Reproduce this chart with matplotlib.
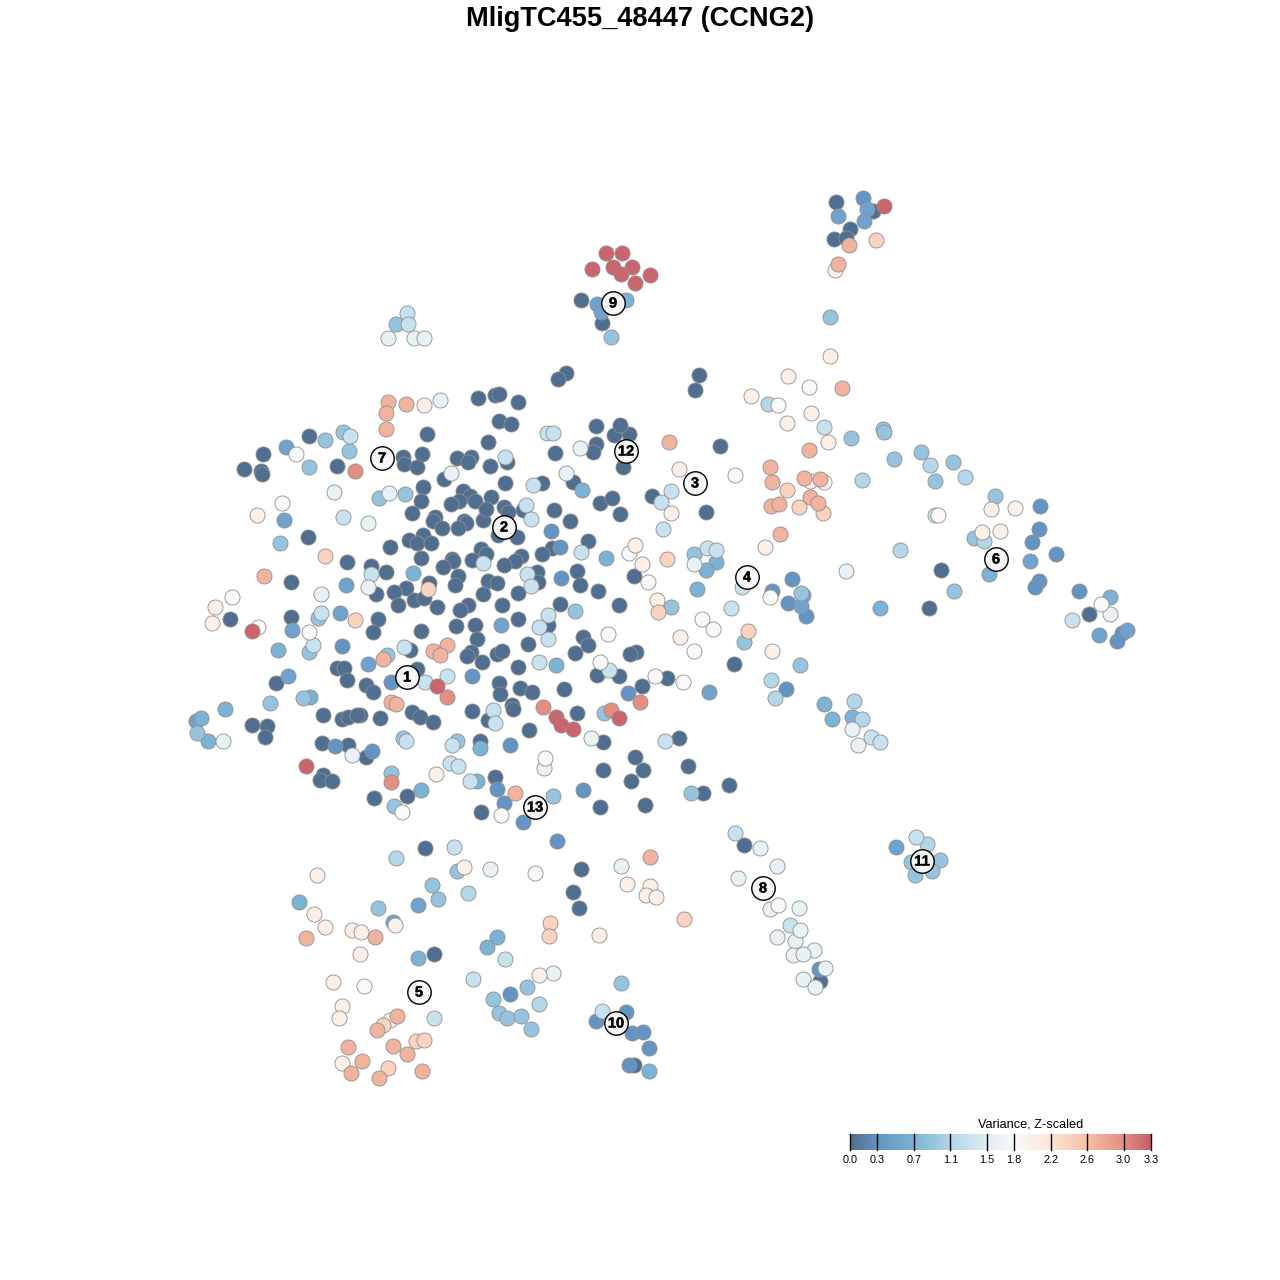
import matplotlib
matplotlib.use("Agg")
import matplotlib.pyplot as plt
import matplotlib.colors as mcolors
import matplotlib.patheffects as pe
import numpy as np

plt.rcParams['font.family'] = ['Liberation Sans', 'DejaVu Sans']

title = "MligTC455_48447 (CCNG2)"
legend_title = "Variance, Z-scaled"

# embedding positions, grouped by variance level
v_00 = [(427,434),(488,442),(403,457),(404,464),(422,454),(417,467),(457,458),(471,457),(468,462),(490,466),
        (507,462),(555,453),(596,444),(593,452),(614,435),(629,434),(623,467),(444,479),(423,487),(505,483),
        (542,483),(573,482),(463,491),(470,496),(459,501),(451,504),(475,501),(491,497),(421,501),(412,513),
        (435,517),(433,521),(442,528),(464,521),(466,523),(458,528),(483,520),(486,509),(504,507),(508,512),
        (523,510),(554,510),(570,521),(600,503),(612,498),(620,514),(652,496),(498,535),(517,537),(409,540),
        (423,535),(417,543),(431,543),(390,547),(588,541),(552,548),(542,554),(521,556),(515,561),(504,565),
        (481,549),(486,554),(472,560),(452,559),(453,561),(443,567),(421,558),(371,566),(386,572),(458,576),
        (455,585),(429,583),(406,588),(394,592),(376,594),(398,605),(414,600),(424,598),(437,607),(488,581),
        (497,583),(483,594),(518,593),(537,572),(538,582),(577,571),(580,585),(598,591),(619,605),(634,576),
        (560,604),(502,605),(468,605),(460,610),(378,619),(373,632),(421,631),(456,626),(475,625),(518,619),
        (477,639),(548,625),(583,637),(588,645),(575,653),(528,644),(471,652),(467,656),(497,654),(502,651),
        (482,662),(518,667),(636,652),(630,654),(410,650),(417,669),(597,675),(619,676),(642,686),(564,689),
        (366,685),(373,692),(499,683),(500,694),(520,688),(532,692),(472,711),(512,705),(513,709),(412,712),
        (420,717),(433,722),(380,718),(360,715),(577,713),(488,720),(529,730),
        (566,373),(558,379),(699,375),(695,390),(478,398),(495,395),(499,394),(518,402),(499,421),(511,424),
        (596,426),(620,425),(720,446),(309,436),(263,454),(244,469),(261,471),(262,474),(337,466),(308,537),
        (291,582),(291,617),(230,619),(347,562),(337,668),(344,668),(347,680),(276,683),(252,725),(267,726),
        (265,737),(323,715),(342,719),(348,717),(357,715),(322,743),(348,745),(366,757),(323,775),(320,780),
        (332,781),(374,798),(407,796),(480,741),(495,777),(603,742),(603,770),(635,757),(643,770),(631,781),
        (600,807),(645,805),(688,766),(703,793),(729,785),(679,738),(481,812),(706,512),(734,664),(667,678),
        (929,608),(941,570),(425,848),(581,869),(573,892),(579,908),(434,954),(634,1065),(744,845),(820,981),
        (836,202),(873,211),(850,229),(834,239),(846,238),(581,300),(602,323),(1089,614)]
v_03 = [(551,531),(560,547),(561,578),(391,682),(472,676),(628,693),(342,646),(335,746),(372,751),(497,789),
        (504,803),(583,790),(523,822),(557,841),(510,745),(786,689),(792,579),(788,603),(806,616),(1040,506),
        (1039,529),(1032,542),(1056,554),(1039,581),(1035,587),(1079,591),(1122,633),(1117,641),(510,994),
        (626,1012),(596,1021),(632,1033),(643,1032),(649,1048),(629,1065),(819,969),(863,198),(772,591)]
v_05 = [(368,664),(501,625),(286,447),(284,520),(346,585),(340,613),(292,630),(288,676),(196,721),(803,595),
        (801,606),(1030,561),(1099,635),(1127,630),(418,905),(393,922),(896,847),(838,216),(867,209),(864,221),
        (597,304),(601,312),(709,692)]
v_07 = [(582,490),(606,558),(413,573),(556,665),(278,650),(310,697),(225,709),(201,718),(208,741),(421,790),
        (480,748),(477,781),(697,589),(880,608),(989,574),(1110,597),(299,902),(418,958),(497,937),(487,947),
        (824,704),(832,719),(852,717),(649,1071),(626,300),(716,562),(706,570)]
v_09 = [(379,498),(405,494),(387,655),(575,611),(604,713),(325,440),(343,432),(349,451),(309,467),(280,543),
        (318,618),(309,652),(303,698),(270,703),(197,733),(403,738),(457,741),(391,773),(394,806),(553,796),
        (691,793),(694,554),(671,607),(744,642),(800,665),(801,593),(954,591),(851,438),(883,429),(884,432),
        (894,459),(921,452),(953,462),(935,481),(995,496),(974,538),(457,871),(432,885),(438,899),(378,908),
        (527,987),(493,999),(499,1013),(507,1018),(521,1016),(531,1029),(621,983),(911,862),(940,860),(915,875),
        (932,871),(830,317),(611,337),(396,324)]
v_11 = [(900,550),(862,480),(930,465),(965,477),(396,858),(468,893),(539,1004),(927,844),(771,680),(775,698),
        (768,404),(984,541),(854,701),(862,719)]
v_13 = [(505,457),(533,485),(526,505),(531,519),(581,552),(483,563),(527,574),(531,586),(371,574),(548,615),
        (539,627),(548,639),(609,670),(493,710),(495,723),(404,647),(447,676),(539,662),(425,682),(547,433),
        (553,433),(406,741),(452,745),(450,763),(458,766),(470,781),(321,613),(313,645),(350,436),(343,517),
        (665,741),(663,529),(671,491),(661,502),(707,548),(716,550),(731,608),(742,587),(824,427),(935,515),
        (1072,620),(454,847),(505,959),(473,979),(602,1011),(434,1018),(735,833),(790,925),(916,837),(871,737),
        (880,742),(407,313),(408,324)]
v_16 = [(580,448),(451,473),(566,473),(389,493),(368,523),(368,587),(334,492),(321,594),(223,741),(352,755),
        (591,738),(544,768),(694,564),(846,571),(1110,614),(490,869),(621,866),(553,973),(760,848),(777,866),
        (738,878),(770,909),(799,908),(777,937),(795,941),(800,930),(814,950),(793,955),(803,954),(825,968),
        (803,979),(815,987),(852,729),(858,745),(388,338),(414,338),(424,338),(440,400)]
v_18 = [(629,553),(648,582),(608,634),(600,662),(655,676),(296,454),(282,503),(232,597),(258,627),(309,632),
        (402,812),(501,815),(545,758),(735,475),(702,619),(713,629),(694,651),(683,682),(770,597),(809,387),
        (778,405),(824,482),(938,515),(1101,604),(535,873),(778,905),(364,986)]
v_20 = [(635,545),(642,564),(657,600),(257,515),(215,607),(212,623),(317,875),(314,914),(325,927),(352,930),
        (361,932),(395,925),(360,954),(436,774),(679,469),(671,513),(680,637),(772,651),(765,547),(788,376),
        (751,396),(811,413),(787,423),(828,442),(810,481),(991,509),(1015,508),(982,532),(1000,531),(464,867),
        (627,884),(650,886),(646,895),(656,897),(599,935),(539,975),(333,982),(342,1006),(339,1018),(390,1020),
        (342,1063),(830,356),(835,270),(424,405)]
v_23 = [(658,612),(428,589),(325,556),(355,620),(667,559),(748,631),(876,240),(787,490),(799,507),(823,513),
        (550,923),(549,936),(684,919),(383,1025),(416,1041),(424,1040),(388,1068)]
v_26 = [(447,645),(433,651),(440,655),(383,659),(391,702),(396,704),(388,402),(406,404),(386,413),(386,429),
        (669,442),(770,467),(772,482),(804,478),(820,479),(771,506),(779,504),(810,497),(818,503),(780,534),
        (842,388),(809,450),(264,576),(515,793),(849,245),(838,264),(306,938),(375,937),(650,857),(397,1016),
        (377,1030),(393,1046),(407,1054),(362,1061),(351,1073),(379,1078),(422,1071),(348,1047)]
v_29 = [(447,697),(543,707),(611,710),(640,702),(355,471),(391,782)]
v_32 = [(437,686),(556,717),(561,725),(573,729),(619,718),(252,631),(306,766),(884,206),(606,253),(622,253),
        (613,267),(632,267),(592,269),(621,274),(650,275),(635,283)]

levels = [0.0, 0.3, 0.5, 0.7, 0.9, 1.1, 1.3, 1.6, 1.8, 2.0, 2.4, 2.7, 3.0, 3.25]
groups = [v_00, v_03, v_05, v_07, v_09, v_11, v_13, v_16, v_18, v_20, v_23, v_26, v_29, v_32]

cluster_ids = list(range(1, 14))
cluster_x = [407, 504, 695, 747, 419, 996, 382, 763, 613, 616, 922, 626, 535]
cluster_y = [677, 527, 483, 577, 992, 559, 458, 888, 303, 1023, 861, 451, 807]

bar_ticks = [0.0, 0.3, 0.7, 1.1, 1.5, 1.8, 2.2, 2.6, 3.0, 3.3]
bar_colors = ['#053061', '#2166AC', '#4393C3', '#92C5DE', '#D1E5F0', '#F7F7F7',
              '#FDDBC7', '#F4A582', '#D6604D', '#B2182B']

cmap = mcolors.LinearSegmentedColormap.from_list(
    'variance', [(t / 3.3, c) for t, c in zip(bar_ticks, bar_colors)])
norm = mcolors.Normalize(0, 3.3)


def faded(value, alpha=0.7):
    # colour on white, so overlapping points do not get darker
    rgb = np.array(cmap(norm(value))[:3])
    return tuple(alpha * rgb + (1 - alpha))


fig = plt.figure(figsize=(12.8, 12.8), dpi=100)
ax = fig.add_axes([0, 0, 1, 1])
ax.set_xlim(0, 1280)
ax.set_ylim(1280, 0)
ax.axis('off')

for level, pts in zip(levels, groups):
    pts = np.array(pts)
    ax.scatter(pts[:, 0], pts[:, 1], s=118, color=faded(level),
               edgecolors='#8f8f8f', linewidths=0.6, zorder=2)

# cluster labels
ax.scatter(cluster_x, cluster_y, s=285, facecolor='#f4f6f8', edgecolor='black',
           linewidths=1.0, zorder=3)
for cid, cx, cy in zip(cluster_ids, cluster_x, cluster_y):
    ax.text(cx, cy + 0.5, str(cid), ha='center', va='center', fontsize=10.5,
            fontweight='bold', zorder=4,
            path_effects=[pe.withStroke(linewidth=0.3, foreground='black')])

ax.text(640.5, 19, title, ha='center', va='center', fontsize=19.65, fontweight='bold')

# colour bar
cax = fig.add_axes([850 / 1280, 1 - 1150 / 1280, 301 / 1280, 16 / 1280])
grad = np.linspace(0, 3.3, 400).reshape(1, -1)
cax.imshow(grad, aspect='auto', cmap=cmap, norm=norm, alpha=0.7, extent=[0, 3.3, 0, 1])
for t in bar_ticks:
    cax.axvline(t, color='black', lw=1.0, clip_on=False)
for side in cax.spines.values():
    side.set_visible(False)
cax.set_yticks([])
cax.set_xticks(bar_ticks)
cax.set_xticklabels(['%.1f' % t for t in bar_ticks], fontsize=7.8)
cax.tick_params(axis='x', length=0, pad=3.7)
cax.set_title(legend_title, fontsize=9.2, x=0.6, pad=5)

fig.savefig('out.png', dpi=100)
